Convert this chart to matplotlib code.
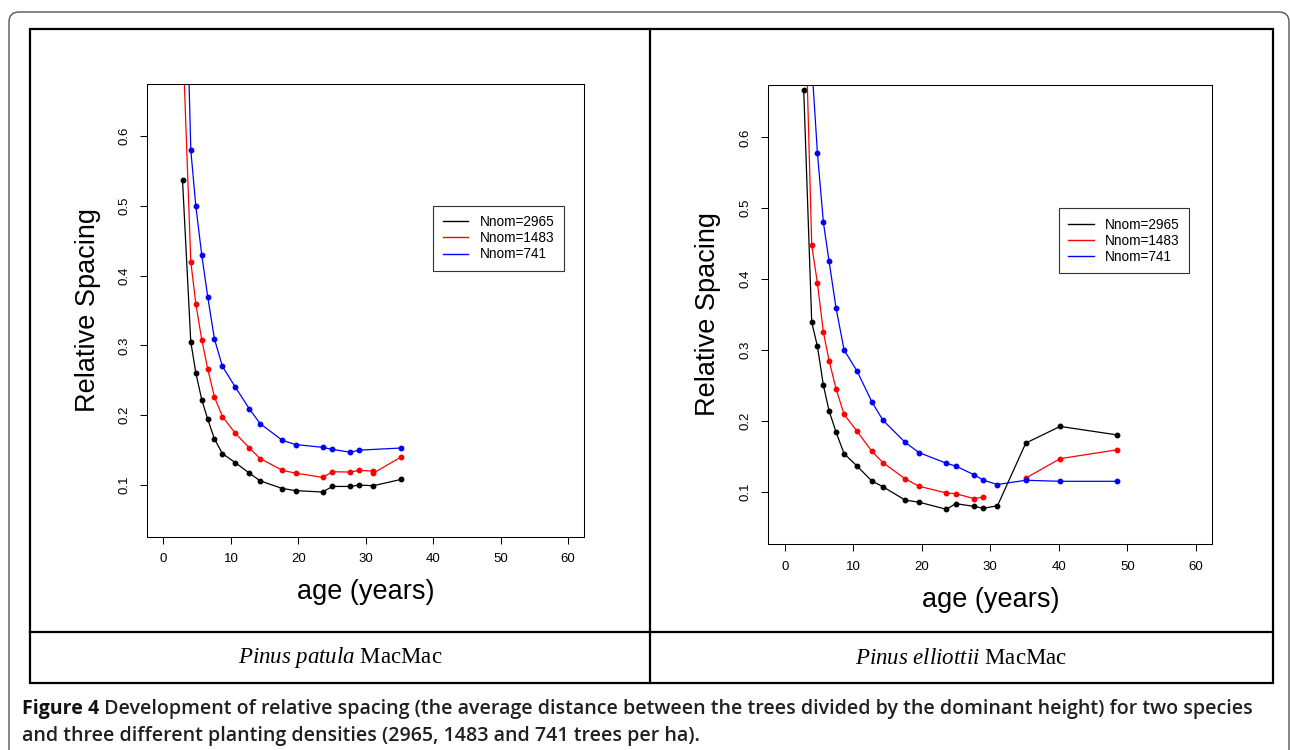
import numpy as np
import matplotlib
matplotlib.use("Agg")
import matplotlib.pyplot as plt
from matplotlib.lines import Line2D
from matplotlib.patches import FancyBboxPatch, Rectangle

# Pinus patula MacMac (left panel)
age_patula = [2.82, 4.05, 4.79, 5.68, 6.57, 7.56, 8.74, 10.67, 12.74, 14.33,
              17.63, 19.61, 23.61, 25.04, 27.7, 29.04, 31.1, 35.2]
rs_patula_2965 = [0.537, 0.305, 0.261, 0.222, 0.194, 0.166, 0.145, 0.132, 0.117,
                  0.106, 0.095, 0.092, 0.090, 0.098, 0.098, 0.100, 0.099, 0.108]
age_patula_1483 = [2.82, 4.05, 4.79, 5.68, 6.57, 7.56, 8.74, 10.67, 12.74, 14.33,
                   17.63, 19.61, 23.61, 25.04, 27.7, 29.04, 31.1, 31.1, 35.2]
rs_patula_1483 = [0.748, 0.420, 0.360, 0.308, 0.266, 0.226, 0.198, 0.174, 0.153,
                  0.138, 0.121, 0.117, 0.111, 0.119, 0.1186, 0.121, 0.120, 0.117, 0.140]
age_patula_741 = [2.82, 4.05, 4.79, 5.68, 6.57, 7.56, 8.74, 10.67, 12.74, 14.33,
                  17.63, 19.61, 23.61, 25.04, 27.7, 29.04, 35.2]
rs_patula_741 = [1.04, 0.580, 0.500, 0.429, 0.369, 0.309, 0.270, 0.240, 0.209,
                 0.188, 0.164, 0.158, 0.154, 0.151, 0.147, 0.150, 0.153]

# Pinus elliottii MacMac (right panel), nan = missing measurement
age_elliottii = [2.77, 3.94, 4.77, 5.64, 6.47, 7.49, 8.66, 10.56, 12.7, 14.31,
                 17.57, 19.61, 23.6, 24.96, 27.69, 29.0, 31.05, 35.18, 40.19, 48.52]
rs_elliottii_2965 = [0.667, 0.339, 0.305, 0.250, 0.214, 0.184, 0.1535, 0.136, 0.115,
                     0.107, 0.088, 0.085, 0.075, 0.083, 0.079, 0.0765, 0.080,
                     0.1685, 0.192, 0.180]
rs_elliottii_1483 = [0.86, 0.448, 0.394, 0.325, 0.285, 0.245, 0.209, 0.185, 0.157,
                     0.141, 0.118, 0.1075, 0.098, 0.097, 0.090, 0.0925, np.nan,
                     0.119, 0.1465, 0.159]
rs_elliottii_741 = [1.30, 0.704, 0.578, 0.480, 0.425, 0.359, 0.300, 0.270, 0.227,
                    0.201, 0.1695, 0.155, 0.140, 0.136, 0.1235, 0.116, 0.110,
                    0.116, 0.1145, 0.1145]

labels = ["Nnom=2965", "Nnom=1483", "Nnom=741"]
colors = ["black", "#ff0000", "#0000ff"]
xticks = [0, 10, 20, 30, 40, 50, 60]
yticks = [0.1, 0.2, 0.3, 0.4, 0.5, 0.6]

plt.rcParams["font.family"] = ["Liberation Sans", "DejaVu Sans"]
plt.rcParams["mathtext.fontset"] = "custom"
plt.rcParams["mathtext.it"] = "Liberation Serif:italic"
plt.rcParams["mathtext.rm"] = "Liberation Serif"

W, H = 1290, 750
fig = plt.figure(figsize=(W / 100, H / 100), dpi=100)

# page-like background: rounded frame, table, captions (pixel coords)
bg = fig.add_axes([0, 0, 1, 1])
bg.set_xlim(0, W)
bg.set_ylim(H, 0)
bg.axis("off")
bg.add_patch(FancyBboxPatch((9, 12), 1280, 800, boxstyle="round,pad=0,rounding_size=10",
                            fill=False, ec="#555555", lw=1.0))
bg.add_patch(Rectangle((30, 29), 1243, 654, fill=False, ec="black", lw=1.6))
bg.plot([650, 650], [29, 683], color="black", lw=1.6)
bg.plot([30, 1273], [632, 632], color="black", lw=1.6)

bg.text(340, 658, r"$\mathit{Pinus\ patula}$ MacMac", ha="center", va="center",
        fontsize=16.5, family="Liberation Serif")
bg.text(961, 658, r"$\mathit{Pinus\ elliottii}$ MacMac", ha="center", va="center",
        fontsize=16.5, family="Liberation Serif")

cap_font = ["Open Sans", "DejaVu Sans"]
cap_fs = 12.5
t1 = bg.text(22, 709, "Figure 4", fontsize=cap_fs, family=cap_font,
             weight="bold", va="center", color="#111111")
t2 = bg.annotate(" Development of relative spacing (the average distance between the trees "
                 "divided by the dominant height) for two species",
                 xy=(1, 0.5), xycoords=t1, va="center", ha="left", fontsize=cap_fs,
                 family=cap_font, weight="semibold", color="#231f20")
t3 = bg.text(22, 736, "and three different planting densities (2965, 1483 and 741 trees per ha).",
             fontsize=cap_fs, family=cap_font, weight="semibold",
             va="center", color="#231f20")

# fit caption first line to the width it has in the original (x 22..1250)
fig.canvas.draw()
r = fig.canvas.get_renderer()
width = t2.get_window_extent(r).x1 - t1.get_window_extent(r).x0
for t in (t1, t2, t3):
    t.set_fontsize(cap_fs * 1228 / width)


def panel(ax, series, xlab_off):
    for (x, y), c in zip(series, colors):
        ax.plot(x, y, color=c, lw=0.9, marker="o", ms=3.2, mec=c, mfc=c)
    ax.set_xlim(-2.4, 62.4)
    ax.set_ylim(0.026, 0.674)
    ax.set_xticks(xticks)
    ax.set_yticks(yticks)
    ax.set_yticklabels([f"{v:.1f}" for v in yticks])
    ax.tick_params(direction="out", length=5, width=0.75, labelsize=9.5, pad=7)
    ax.tick_params(axis="y", labelrotation=90)
    for lab in ax.get_yticklabels():
        lab.set_va("center")
    for s in ax.spines.values():
        s.set_linewidth(0.75)
    ax.set_xlabel("age (years)", fontsize=19.5)
    ax.set_ylabel("Relative Spacing", fontsize=19.5)
    ax.xaxis.set_label_coords(0.5, xlab_off)
    ax.xaxis.label.set_va("center")
    ax.yaxis.set_label_coords(-0.136, 0.5)
    ax.yaxis.label.set_va("center")
    handles = [Line2D([], [], color=c, lw=1.0) for c in colors]
    leg = ax.legend(handles, labels, loc="upper left", bbox_to_anchor=(0.6545, 0.7317),
                    borderaxespad=0, fancybox=False, edgecolor="#333333", framealpha=1,
                    fontsize=9.8, handlelength=1.85, handletextpad=0.85,
                    borderpad=0.7, labelspacing=0.15)
    leg.get_frame().set_linewidth(0.8)


ax1 = fig.add_axes([147.3 / W, 1 - 536.7 / H, 437 / W, 452.4 / H])
panel(ax1, [(age_patula, rs_patula_2965), (age_patula_1483, rs_patula_1483),
            (age_patula_741, rs_patula_741)], -55 / 452.4)

ax2 = fig.add_axes([768.3 / W, 1 - 544 / H, 444 / W, 459 / H])
panel(ax2, [(age_elliottii, rs_elliottii_2965), (age_elliottii, rs_elliottii_1483),
            (age_elliottii, rs_elliottii_741)], -56 / 459)

fig.savefig("out.png", dpi=100)
